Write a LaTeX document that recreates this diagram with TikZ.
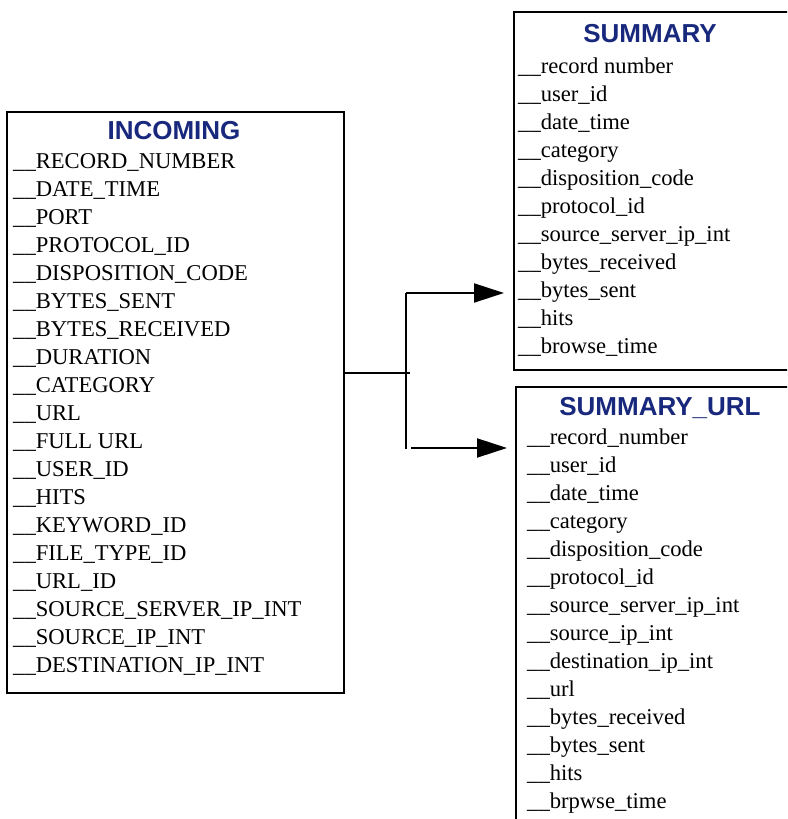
\documentclass[tikz,border=0pt]{standalone}
\usepackage{fontspec}
\setmainfont{Liberation Serif}
\newfontfamily\titlefont{Liberation Sans}
\usetikzlibrary{arrows.meta}
\definecolor{titleblue}{RGB}{24,40,124}
\tikzset{
  tablebox/.style={draw=black, line width=2pt, inner sep=0pt},
  field/.style={anchor=base west, inner sep=0pt, font=\fontsize{22.6}{28}\selectfont},
  tabletitle/.style={anchor=base, inner sep=0pt, text=titleblue, font=\titlefont\bfseries\fontsize{26}{30}\selectfont},
  conn/.style={line width=2pt, draw=black},
  arr/.style={conn, -{Triangle[length=30pt,width=19pt]}}
}
\begin{document}
\begin{tikzpicture}[x=1pt,y=1pt]
\useasboundingbox (0,0) rectangle (787,819);
\clip (0,0) rectangle (787,819);
% boxes
\node[tablebox, minimum width=337pt, minimum height=581pt] (inc) at (175.5,416.5) {};
\node[tablebox, minimum width=280pt, minimum height=358pt] (sum) at (654,628) {};
\node[tablebox, minimum width=280pt, minimum height=460pt] (url) at (656,202) {};
% titles
\node[tabletitle] (incT) at (174,679) {INCOMING};
\node[tabletitle] (sumT) at (650,776.5) {SUMMARY};
\node[tabletitle] (urlT) at (660,403.5) {SUMMARY\_URL};
% fields
\foreach \t [count=\i from 0] in {RECORD\_NUMBER,DATE\_TIME,PORT,PROTOCOL\_ID,DISPOSITION\_CODE,BYTES\_SENT,BYTES\_RECEIVED,DURATION,CATEGORY,URL,FULL URL,USER\_ID,HITS,KEYWORD\_ID,FILE\_TYPE\_ID,URL\_ID,SOURCE\_SERVER\_IP\_INT,SOURCE\_IP\_INT,DESTINATION\_IP\_INT}
  \node[field] (inc-\i) at (13,650.5-28*\i) {\_\_\t};
\foreach \t [count=\i from 0] in {record number,user\_id,date\_time,category,disposition\_code,protocol\_id,source\_server\_ip\_int,bytes\_received,bytes\_sent,hits,browse\_time}
  \node[field] (sum-\i) at (518,745.5-28*\i) {\_\_\t};
\foreach \t [count=\i from 0] in {record\_number,user\_id,date\_time,category,disposition\_code,protocol\_id,source\_server\_ip\_int,source\_ip\_int,destination\_ip\_int,url,bytes\_received,bytes\_sent,hits,brpwse\_time}
  \node[field] (url-\i) at (527,374.5-28*\i) {\_\_\t};
% connectors
\coordinate (jA) at (410,446);
\coordinate (vTop) at (406,526);
\coordinate (vBot) at (406,370);
\coordinate (tipS) at (504,526);
\coordinate (bStart) at (411,371);
\coordinate (tipU) at (507,371);
\draw[conn] (inc.east |- jA) -- (jA);
\draw[conn] (vTop) -- (vBot);
\draw[arr] (vTop) -- (tipS);
\draw[arr] (bStart) -- (tipU);
\end{tikzpicture}
\end{document}
